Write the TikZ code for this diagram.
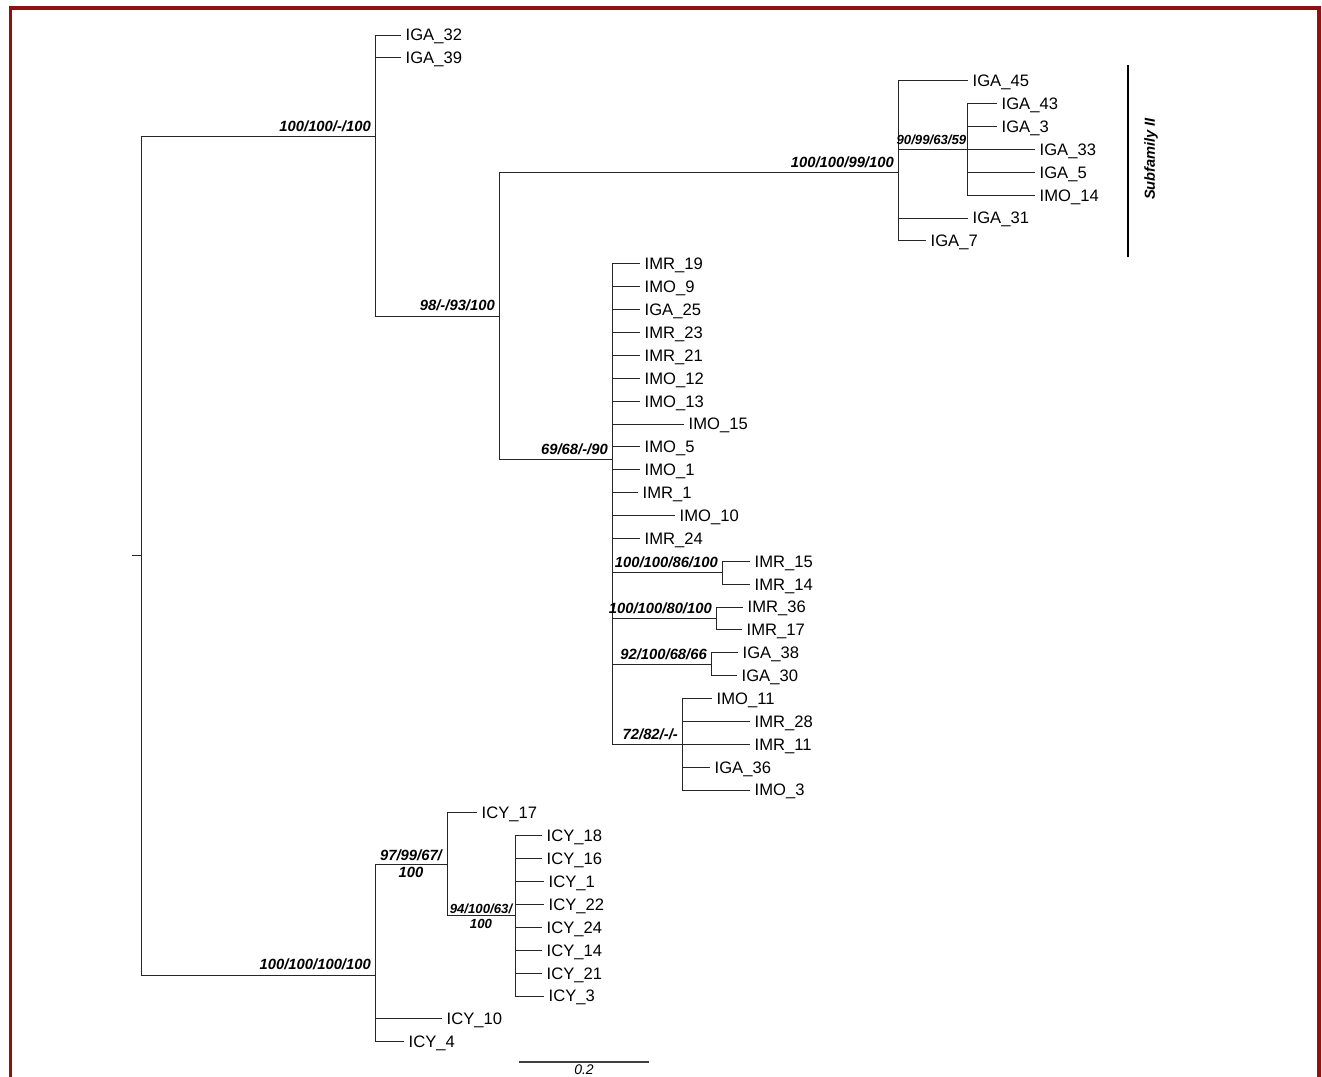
\documentclass[tikz,border=0pt]{standalone}
\usepackage{fontspec}
\setmainfont{Liberation Sans}
\definecolor{framered}{HTML}{8E1010}
\newcommand{\leaffont}{\fontsize{16.6}{19}\selectfont}
\newcommand{\bootfont}{\fontsize{14.8}{17}\selectfont\bfseries\itshape}
\newcommand{\bootsmfont}{\fontsize{13.2}{15}\selectfont\bfseries\itshape}
\begin{document}
\begin{tikzpicture}[
    x=1pt, y=-1pt,
    branch/.style={draw=black!85, line width=1pt},
    leaf/.style={anchor=west, inner xsep=4.5pt, inner ysep=0pt, font=\leaffont,
                 text height=11.9pt, text depth=0pt},
    boot/.style={anchor=south east, inner sep=0pt, text depth=0pt,
                 xshift=-4pt, yshift=5pt, font=\bootfont},
    bootsm/.style={boot, font=\bootsmfont},
    boottwo/.style={align=center, inner sep=0pt, font=#1}
]
    \useasboundingbox (0,0) rectangle (1322,1076);
    % frame
    \draw[framered, line width=3.5pt] (10.5,1085) -- (10.5,8) -- (1319,8) -- (1319,1085);

    % inner nodes
    \coordinate (rootstub) at (132,555.6);
    \coordinate (nRoot) at (141,555.6);
    \coordinate (nA) at (375,136.3);
    \coordinate (nB) at (499,316.0);
    \coordinate (nC) at (898,172.3);
    \coordinate (nE) at (967,149.4);
    \coordinate (nD) at (612,459.6);
    \coordinate (nF) at (722,572.7);
    \coordinate (nG) at (716,618.5);
    \coordinate (nH) at (711,664.2);
    \coordinate (nI) at (682,744.3);
    \coordinate (nJ) at (375,975.0);
    \coordinate (nK) at (447,864.4);
    \coordinate (nL) at (515,915.9);

    % leaves
    \node[leaf] (iga32) at (401,35.0) {IGA\_32};
    \node[leaf] (iga39) at (401,57.9) {IGA\_39};
    \node[leaf] (iga45) at (968,80.8) {IGA\_45};
    \node[leaf] (iga43) at (997,103.6) {IGA\_43};
    \node[leaf] (iga3) at (997,126.5) {IGA\_3};
    \node[leaf] (iga33) at (1035,149.4) {IGA\_33};
    \node[leaf] (iga5) at (1035,172.3) {IGA\_5};
    \node[leaf] (imo14) at (1035,195.2) {IMO\_14};
    \node[leaf] (iga31) at (968,218.0) {IGA\_31};
    \node[leaf] (iga7) at (926,240.9) {IGA\_7};
    \node[leaf] (imr19) at (640,263.8) {IMR\_19};
    \node[leaf] (imo9) at (640,286.7) {IMO\_9};
    \node[leaf] (iga25) at (640,309.6) {IGA\_25};
    \node[leaf] (imr23) at (640,332.4) {IMR\_23};
    \node[leaf] (imr21) at (640,355.3) {IMR\_21};
    \node[leaf] (imo12) at (640,378.2) {IMO\_12};
    \node[leaf] (imo13) at (640,401.1) {IMO\_13};
    \node[leaf] (imo15) at (684,424.0) {IMO\_15};
    \node[leaf] (imo5) at (640,446.8) {IMO\_5};
    \node[leaf] (imo1) at (640,469.7) {IMO\_1};
    \node[leaf] (imr1) at (638,492.6) {IMR\_1};
    \node[leaf] (imo10) at (675,515.5) {IMO\_10};
    \node[leaf] (imr24) at (640,538.4) {IMR\_24};
    \node[leaf] (imr15) at (750,561.2) {IMR\_15};
    \node[leaf] (imr14) at (750,584.1) {IMR\_14};
    \node[leaf] (imr36) at (743,607.0) {IMR\_36};
    \node[leaf] (imr17) at (742,629.9) {IMR\_17};
    \node[leaf] (iga38) at (738,652.8) {IGA\_38};
    \node[leaf] (iga30) at (737,675.6) {IGA\_30};
    \node[leaf] (imo11) at (712,698.5) {IMO\_11};
    \node[leaf] (imr28) at (750,721.4) {IMR\_28};
    \node[leaf] (imr11) at (750,744.3) {IMR\_11};
    \node[leaf] (iga36) at (710,767.2) {IGA\_36};
    \node[leaf] (imo3) at (750,790.0) {IMO\_3};
    \node[leaf] (icy17) at (477,812.9) {ICY\_17};
    \node[leaf] (icy18) at (542,835.8) {ICY\_18};
    \node[leaf] (icy16) at (542,858.7) {ICY\_16};
    \node[leaf] (icy1) at (544,881.6) {ICY\_1};
    \node[leaf] (icy22) at (544,904.4) {ICY\_22};
    \node[leaf] (icy24) at (542,927.3) {ICY\_24};
    \node[leaf] (icy14) at (542,950.2) {ICY\_14};
    \node[leaf] (icy21) at (542,973.1) {ICY\_21};
    \node[leaf] (icy3) at (544,996.0) {ICY\_3};
    \node[leaf] (icy10) at (442,1018.8) {ICY\_10};
    \node[leaf] (icy4) at (404,1041.7) {ICY\_4};

    % branches
    \draw[branch] (rootstub) -- (nRoot);
    \draw[branch] (nRoot) |- (nA) (nRoot) |- (nJ);
    \draw[branch] (nA) |- (iga32.west) (nA) |- (iga39.west) (nA) |- (nB);
    \draw[branch] (nB) |- (nC) (nB) |- (nD);
    \draw[branch] (nC) |- (iga45.west) (nC) |- (nE) (nC) |- (iga31.west) (nC) |- (iga7.west);
    \draw[branch] (nE) |- (iga43.west) (nE) |- (iga3.west) (nE) |- (iga33.west)
                  (nE) |- (iga5.west) (nE) |- (imo14.west);
    \draw[branch] (nD) |- (imr19.west) (nD) |- (imo9.west) (nD) |- (iga25.west)
                  (nD) |- (imr23.west) (nD) |- (imr21.west) (nD) |- (imo12.west)
                  (nD) |- (imo13.west) (nD) |- (imo15.west) (nD) |- (imo5.west)
                  (nD) |- (imo1.west) (nD) |- (imr1.west) (nD) |- (imo10.west)
                  (nD) |- (imr24.west) (nD) |- (nF) (nD) |- (nG) (nD) |- (nH) (nD) |- (nI);
    \draw[branch] (nF) |- (imr15.west) (nF) |- (imr14.west);
    \draw[branch] (nG) |- (imr36.west) (nG) |- (imr17.west);
    \draw[branch] (nH) |- (iga38.west) (nH) |- (iga30.west);
    \draw[branch] (nI) |- (imo11.west) (nI) |- (imr28.west) (nI) |- (imr11.west)
                  (nI) |- (iga36.west) (nI) |- (imo3.west);
    \draw[branch] (nJ) |- (nK) (nJ) |- (icy10.west) (nJ) |- (icy4.west);
    \draw[branch] (nK) |- (icy17.west) (nK) |- (nL);
    \draw[branch] (nL) |- (icy18.west) (nL) |- (icy16.west) (nL) |- (icy1.west)
                  (nL) |- (icy22.west) (nL) |- (icy24.west) (nL) |- (icy14.west)
                  (nL) |- (icy21.west) (nL) |- (icy3.west);

    % support values
    \node[boot] (bsA) at (nA) {100/100/-/100};
    \node[boot] (bsB) at (nB) {98/-/93/100};
    \node[boot] (bsC) at (nC) {100/100/99/100};
    \node[bootsm, xshift=3.5pt] (bsE) at (nE) {90/99/63/59};
    \node[boot] (bsD) at (nD) {69/68/-/90};
    \node[boot] (bsF) at (nF) {100/100/86/100};
    \node[boot] (bsG) at (nG) {100/100/80/100};
    \node[boot] (bsH) at (nH) {92/100/68/66};
    \node[boot] (bsI) at (nI) {72/82/-/-};
    \node[boot] (bsJ) at (nJ) {100/100/100/100};
    \node[boottwo=\bootfont] (bsK) at (411,863.5) {97/99/67/\\100};
    \node[boottwo=\bootsmfont] (bsL) at (481,916) {94/100/63/\\100};

    % subfamily bar
    \coordinate (subTop) at (1128,65);
    \coordinate (subBot) at (1128,257);
    \draw[line width=1.2pt] (subTop) -- (subBot);
    \node[rotate=90, inner sep=0pt, font=\fontsize{14.6}{17}\selectfont\bfseries\itshape]
        (subII) at (1151,159) {Subfamily II};

    % scale bar
    \coordinate (scaleL) at (519,1062);
    \coordinate (scaleR) at (649,1062);
    \draw[line width=1.1pt, black!75] (scaleL) -- (scaleR);
    \node[anchor=north, inner sep=0pt, text height=10.2pt, text depth=0pt,
          font=\fontsize{14}{17}\selectfont\itshape] (scaleTxt) at (584,1064.5) {0.2};
\end{tikzpicture}
\end{document}
